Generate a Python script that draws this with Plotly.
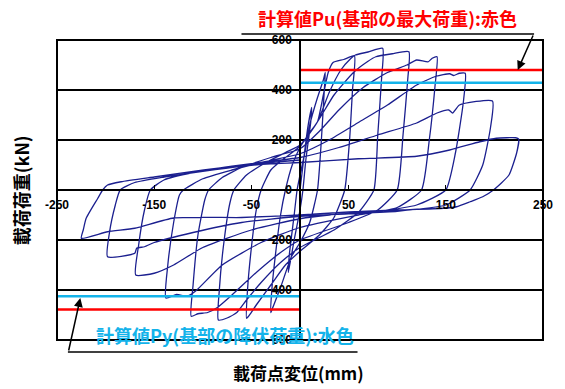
import plotly.graph_objects as go

# ---- data (displacement mm, load kN) ----
dA_x = [0, 4, 8, 12, 11, 6, 3, 0, -6, -12]
dA_y = [0, 130, 250, 330, 270, 120, 0, -80, -200, -330]

dB_x = [-11, -6, -3, 0, 5, 10, 18, 24, 26, 25, 22, 18, 10, 0, -9, -20, -28, -30]
dB_y = [-260, -100, 0, 60, 150, 260, 370, 440, 470, 400, 200, 0, -130, -210, -268, -390, -470, -490]

dC_x = [-29, -25, -20, -15, -8, 0, 10, 18, 24, 29, 34, 45, 56,
        54, 51, 46, 35, 20, 0, -15, -30, -45, -52, -55]
dC_y = [-400, -250, -100, 0, 100, 170, 230, 273, 380, 470, 510, 522, 537,
        400, 200, 0, -110, -180, -245, -300, -380, -460, -500, -513]

dD_x = [-54, -50, -45, -40, -30, -15, 0, 18, 30, 42, 52, 57, 70, 85,
        84, 80, 76, 60, 35, 0, -20, -40, -55, -65, -75, -84]
dD_y = [-400, -230, -80, 0, 80, 130, 175, 273, 390, 480, 525, 540, 552, 567,
        450, 220, 0, -90, -160, -230, -290, -370, -440, -490, -512, -520]

dE_x = [-83, -78, -72, -68, -55, -35, -15, 0, 18, 35, 55, 70, 78, 95, 112,
        111, 106, 100, 80, 50, 0, -20, -45, -70, -85, -95, -105, -112]
dE_y = [-400, -200, -50, 0, 60, 110, 150, 180, 273, 380, 470, 515, 533, 545, 553,
        450, 220, 0, -80, -130, -200, -250, -330, -420, -470, -490, -495, -505]

dF_x = [-110, -105, -98, -94, -80, -60, -30, 0, 20, 40, 65, 90, 110, 120, 132, 136, 141,
        139, 133, 125, 100, 60, 0, -40, -80, -107, -116, -127, -138]
dF_y = [-380, -180, -40, 0, 50, 90, 130, 165, 235, 320, 410, 470, 500, 520, 513, 527, 533,
        420, 200, 0, -70, -100, -150, -210, -300, -403, -425, -418, -432]

dG_x = [-136, -130, -124, -120, -100, -70, -40, 0, 30, 60, 90, 120, 140, 154, 158, 164, 170,
        168, 160, 150, 120, 80, 30, 0, -50, -100, -130, -150, -169]
dG_y = [-300, -130, -20, 0, 45, 80, 110, 145, 200, 270, 340, 420, 455, 465, 458, 467, 467,
        350, 150, 0, -60, -85, -100, -115, -160, -230, -300, -333, -340]

dH_x = [-166, -160, -154, -140, -110, -70, -30, 0, 40, 80, 120, 141, 153, 157, 164, 198,
        196, 188, 175, 150, 100, 50, 0, -60, -110, -150, -160, -168, -170, -198]
dH_y = [-220, -80, 0, 40, 70, 95, 115, 130, 170, 220, 268, 308, 320, 308, 340, 356,
        250, 100, 0, -60, -85, -95, -105, -130, -170, -210, -227, -233, -253, -267]

dI_x = [-196, -190, -185, -170, -140, -100, -60, -30, 0, 60, 120, 154, 185, 202, 222, 225,
        223, 215, 199, 188, 175, 161, 148, 100, 50, 0, -60, -130, -170, -198, -225]
dI_y = [-170, -60, 0, 30, 52, 75, 95, 105, 110, 125, 135, 160, 193, 207, 209, 204,
        150, 60, 0, -27, -47, -67, -73, -80, -88, -100, -110, -112, -153, -167, -193]

dJ_x = [-223, -220, -208, -203, -198, -184, -150, -99, -65, -31, 0]
dJ_y = [-160, -113, -33, 0, 20, 33, 52, 80, 96, 110, 120]

Pu_pos, Pu_neg = 480, -478   # 計算値Pu
Py_pos, Py_neg = 429, -425   # 計算値Py

x_ticks = [-250, -150, -50, 50, 150, 250]
y_ticks = [-600, -400, -200, 0, 200, 400, 600]

disp = dA_x + dB_x + dC_x + dD_x + dE_x + dF_x + dG_x + dH_x + dI_x + dJ_x
load = dA_y + dB_y + dC_y + dD_y + dE_y + dF_y + dG_y + dH_y + dI_y + dJ_y

JP = "Noto Sans CJK JP"
TICKF = dict(family="Liberation Sans", size=12, color="black", weight="bold")

fig = go.Figure()
fig.add_trace(go.Scatter(x=disp, y=load, mode="lines",
                         line=dict(color="#1b1f8f", width=1.3, shape="spline", smoothing=0.5),
                         hoverinfo="skip"))
fig.add_trace(go.Scatter(x=[0, 250], y=[Pu_pos, Pu_pos], mode="lines",
                         line=dict(color="#ff0000", width=2.5)))
fig.add_trace(go.Scatter(x=[0, 250], y=[Py_pos, Py_pos], mode="lines",
                         line=dict(color="#13b3ea", width=2.5)))
fig.add_trace(go.Scatter(x=[-250, 0], y=[Py_neg, Py_neg], mode="lines",
                         line=dict(color="#13b3ea", width=2.5)))
fig.add_trace(go.Scatter(x=[-250, 0], y=[Pu_neg, Pu_neg], mode="lines",
                         line=dict(color="#ff0000", width=2.5)))

fig.update_layout(
    width=565, height=389,
    margin=dict(l=57, r=18, t=40, b=49),
    paper_bgcolor="white", plot_bgcolor="white",
    showlegend=False,
    xaxis=dict(range=[-250, 250], domain=[0, 1], anchor="free", position=0.5,
               showline=True, linecolor="black", linewidth=1.5,
               tickvals=x_ticks, ticktext=[str(v) for v in x_ticks],
               ticks="inside", ticklen=4, tickcolor="black", tickwidth=1,
               ticklabelstandoff=4,
               showgrid=False, zeroline=False, tickfont=TICKF),
    yaxis=dict(range=[-600, 600], domain=[0, 1], anchor="free", position=0.5,
               showline=True, linecolor="black", linewidth=1.5,
               tickvals=y_ticks, ticktext=[str(v) for v in y_ticks],
               ticks="outside", ticklen=5, tickcolor="black", tickwidth=1,
               showgrid=True, gridcolor="black", gridwidth=1.5,
               zeroline=False, tickfont=TICKF),
)

fig.add_shape(type="rect", xref="paper", yref="paper", x0=0, x1=1, y0=0, y1=1,
              line=dict(color="black", width=2), layer="above")
# callout lines
fig.add_shape(type="line", xref="paper", yref="paper",
              x0=(243 - 57) / 490, x1=(538 - 57) / 490, y0=(340 - 34) / 300, y1=(340 - 34) / 300,
              line=dict(color="black", width=1.5))
fig.add_shape(type="line", xref="paper", yref="paper",
              x0=(68 - 57) / 490, x1=(360 - 57) / 490, y0=(340 - 352) / 300, y1=(340 - 352) / 300,
              line=dict(color="black", width=1.5))

fig.add_annotation(x=224, y=Pu_pos, xref="x", yref="y", text="", showarrow=True,
                   ax=16, ay=-36, arrowhead=2, arrowsize=1.2, arrowwidth=1.5,
                   arrowcolor="black")
fig.add_annotation(x=-226, y=-432, xref="x", yref="y", text="", showarrow=True,
                   ax=-12, ay=54, arrowhead=2, arrowsize=1.2, arrowwidth=1.5,
                   arrowcolor="black")

fig.add_annotation(x=(390 - 57) / 490, y=(340 - 18) / 300, xref="paper", yref="paper",
                   xanchor="center", yanchor="middle",
                   text="計算値Pu(基部の最大荷重):赤色", showarrow=False,
                   font=dict(family=JP, size=18, color="#ff0000", weight="bold"))
fig.add_annotation(x=(226 - 57) / 490, y=(340 - 335) / 300, xref="paper", yref="paper",
                   xanchor="center", yanchor="middle",
                   text="計算値Py(基部の降伏荷重):水色", showarrow=False,
                   font=dict(family=JP, size=18, color="#13b3ea", weight="bold"))
fig.add_annotation(x=(300 - 57) / 490, y=(340 - 372) / 300, xref="paper", yref="paper",
                   xanchor="center", yanchor="middle",
                   text="載荷点変位(mm)", showarrow=False,
                   font=dict(family=JP, size=17, color="black", weight="bold"))
fig.add_annotation(x=(21 - 57) / 490, y=0.5, xref="paper", yref="paper",
                   xanchor="center", yanchor="middle",
                   text="載荷荷重(kN)", showarrow=False, textangle=-90,
                   font=dict(family=JP, size=18, color="black", weight="bold"))

fig.write_html("out.html")
